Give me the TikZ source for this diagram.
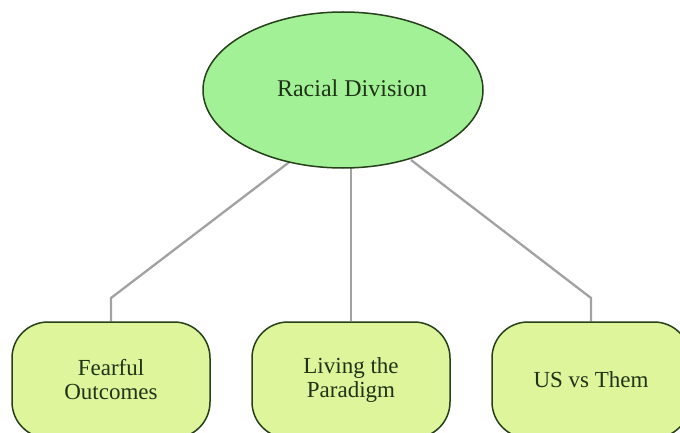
\documentclass[tikz,border=0pt]{standalone}
\usepackage{fontspec}
\setmainfont{Liberation Serif}
\usetikzlibrary{shapes.geometric,backgrounds}
\definecolor{ellfill}{HTML}{A3F196}
\definecolor{boxfill}{HTML}{DFF59B}
\definecolor{edge}{HTML}{25401A}
\definecolor{txt}{HTML}{1F3317}
\definecolor{conn}{HTML}{A2A2A2}
\tikzset{
  topell/.style={ellipse, draw=edge, line width=1.5pt, fill=ellfill, minimum width=280pt, minimum height=156pt, inner sep=0pt},
  leaf/.style={draw=edge, line width=1.5pt, fill=boxfill, rounded corners=36pt, minimum width=198pt, minimum height=116pt, inner sep=0pt, align=center, text=txt, font=\fontsize{23}{24}\selectfont},
  link/.style={draw=conn, line width=2.3pt}
}
\begin{document}
\begin{tikzpicture}[x=1pt,y=-1pt]
\clip (0,0) rectangle (680,433);
\node[topell] (rd) at (343,90) {};
\node[text=txt, font=\fontsize{24}{26}\selectfont] (rdt) at (352,88) {Racial Division};
\node[leaf] (fo) at (111,380) {Fearful\\Outcomes};
\node[leaf] (lp) at (351,380) {Living the\\Paradigm};
\node[leaf] (us) at (591,380) {US vs Them};
\coordinate (tl) at (292,160);
\coordinate (tm) at (351,160);
\coordinate (tr) at (411,160);
\coordinate (bl) at (111,298);
\coordinate (br) at (591,298);
\begin{scope}[on background layer]
\fill[white] (0,0) rectangle (680,433);
\draw[link] (tl) -- (bl) -- (fo.north);
\draw[link] (tm) -- (lp.north);
\draw[link] (tr) -- (br) -- (us.north);
\end{scope}
\end{tikzpicture}
\end{document}
